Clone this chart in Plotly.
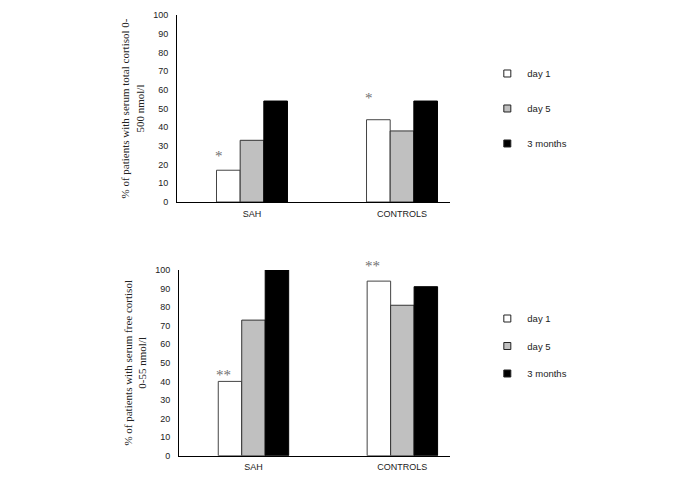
import plotly.graph_objects as go

categories = ["SAH", "CONTROLS"]
series_names = ["day 1", "day 5", "3 months"]
total_day1 = [17, 44]
total_day5 = [33, 38]
total_3m = [54, 54]
free_day1 = [40, 94]
free_day5 = [73, 81]
free_3m = [100, 91]
total_marks = ["*", "*"]
free_marks = ["**", "**"]
y_ticks = list(range(0, 101, 10))

fills = ["#ffffff", "#c0c0c0", "#000000"]
outlines = ["#444444", "#333333", "#000000"]

fig = go.Figure()

top = [total_day1, total_day5, total_3m]
bot = [free_day1, free_day5, free_3m]
for i, name in enumerate(series_names):
    fig.add_trace(go.Bar(x=categories, y=top[i], name=name, xaxis="x", yaxis="y",
                         marker=dict(color=fills[i], line=dict(color=outlines[i], width=1)),
                         showlegend=False))
    fig.add_trace(go.Scatter(x=[None], y=[None], name=name, mode="markers", xaxis="x", yaxis="y",
                             marker=dict(symbol="square", size=7, color=fills[i],
                                         line=dict(color="#222222", width=1)),
                             legend="legend", legendgroup="t%d" % i))
for i, name in enumerate(series_names):
    fig.add_trace(go.Bar(x=categories, y=bot[i], name=name, xaxis="x2", yaxis="y2",
                         marker=dict(color=fills[i], line=dict(color=outlines[i], width=1)),
                         showlegend=False))
    fig.add_trace(go.Scatter(x=[None], y=[None], name=name, mode="markers", xaxis="x2", yaxis="y2",
                             marker=dict(symbol="square", size=7, color=fills[i],
                                         line=dict(color="#222222", width=1)),
                             legend="legend2", legendgroup="b%d" % i))

top_shift = [14, 22]
bot_shift = [6, 15]
ann = []
for j, c in enumerate(categories):
    ann.append(dict(x=c, y=total_day1[j], xref="x", yref="y", text=total_marks[j],
                    showarrow=False, xshift=-33, yshift=top_shift[j],
                    font=dict(family="Liberation Serif", size=15, color="#707070")))
    ann.append(dict(x=c, y=free_day1[j], xref="x2", yref="y2", text=free_marks[j],
                    showarrow=False, xshift=-30, yshift=bot_shift[j],
                    font=dict(family="Liberation Serif", size=15, color="#707070")))

axis_common = dict(showline=True, linecolor="black", linewidth=1, showgrid=False,
                   zeroline=False, automargin=False)
yax = dict(axis_common, range=[0, 100], tickvals=y_ticks, ticks="outside", ticklen=6,
           tickcolor="rgba(0,0,0,0)",
           tickfont=dict(family="Liberation Sans", size=9, color="#222222"))
xax = dict(axis_common, type="category", range=[-0.5, 1.32], ticks="outside", ticklen=3,
           tickcolor="rgba(0,0,0,0)",
           tickfont=dict(family="Liberation Sans", size=9, color="#222222"))

fig.update_layout(
    width=677, height=470,
    margin=dict(l=0, r=0, t=0, b=0),
    paper_bgcolor="white", plot_bgcolor="white",
    barmode="group", bargap=0.527, bargroupgap=0,
    xaxis=dict(xax, domain=[0.2496, 0.6529], anchor="y"),
    yaxis=dict(yax, domain=[0.5872, 0.9851], anchor="x",
               title=dict(text="% of patients with serum total cortisol 0-<br>500 nmol/l",
                          font=dict(family="Liberation Serif", size=11, color="#222222"),
                          standoff=6)),
    xaxis2=dict(xax, domain=[0.2526, 0.6529], anchor="y2"),
    yaxis2=dict(yax, domain=[0.0475, 0.4426], anchor="x2",
                title=dict(text="% of patients with serum free cortisol<br>0-55 nmol/l",
                           font=dict(family="Liberation Serif", size=11, color="#222222"),
                           standoff=6)),
    legend=dict(x=0.708, y=0.8915, xanchor="left", yanchor="top", tracegroupgap=16,
                font=dict(family="Liberation Sans", size=9.5, color="#222222"),
                itemwidth=30, bgcolor="rgba(0,0,0,0)"),
    legend2=dict(x=0.708, y=0.3702, xanchor="left", yanchor="top", tracegroupgap=8.5,
                 font=dict(family="Liberation Sans", size=9.5, color="#222222"),
                 itemwidth=30, bgcolor="rgba(0,0,0,0)"),
    annotations=ann,
)

fig.write_html("out.html")
